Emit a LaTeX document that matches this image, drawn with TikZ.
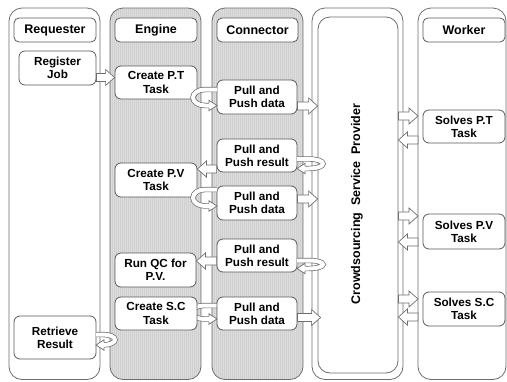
\documentclass[tikz,border=0pt]{standalone}
\usepackage{fontspec}
\setmainfont{Liberation Sans}
\usetikzlibrary{calc}
\definecolor{lc}{HTML}{6E6E6E}
\definecolor{bc}{HTML}{5A5A5A}
\definecolor{lanegray}{HTML}{DCDCDC}
\definecolor{stripe}{HTML}{D0D0D0}

\newcommand\blockarr[2]{%
  \draw[barrow] let \p1=#1, \p2=#2, \p3=($#2!9pt!#1$) in
    (\x1,\y1-4pt) -- (\x3,\y1-4pt) -- (\x3,\y1-8pt) -- (\x2,\y2) --
    (\x3,\y1+8pt) -- (\x3,\y1+4pt) -- (\x1,\y1+4pt) -- cycle;}

% #1 open x, #2 top y, #3 bottom y, #4 extreme x, #5 centre x
\newcommand\uturn[5]{%
  \pgfmathsetmacro\ucy{(#2+#3)/2}%
  \pgfmathsetmacro\ury{(#3-#2)/2}%
  \pgfmathsetmacro\uka{#5+0.552*(#4-#5)}%
  \pgfmathsetmacro\ukt{\ucy-0.552*\ury}%
  \pgfmathsetmacro\ukb{\ucy+0.552*\ury}%
  \pgfmathsetmacro\udir{sign(#1-#5)}%
  \pgfmathsetmacro\uhb{#1-8*\udir}%
  \draw[ubandout] (#1,#2) -- (#5,#2) .. controls (\uka,#2) and (#4,\ukt) .. (#4,\ucy)
     .. controls (#4,\ukb) and (\uka,#3) .. (#5,#3) -- (\uhb,#3);
  \draw[ubandin] (#1,#2) -- (#5,#2) .. controls (\uka,#2) and (#4,\ukt) .. (#4,\ucy)
     .. controls (#4,\ukb) and (\uka,#3) .. (#5,#3) -- (\uhb,#3);
  \filldraw[draw=lc, fill=white, line width=0.7pt, line join=miter]
     (\uhb,#3-2.6) -- (\uhb,#3-5.2) -- (#1,#3) -- (\uhb,#3+5.2) -- (\uhb,#3+2.6);
}

\begin{document}
\begin{tikzpicture}[x=1pt,y=-1pt,
  lane/.style={draw=lc, line width=0.8pt, rounded corners=13pt},
  hdr/.style={draw=bc, fill=white, line width=0.8pt, rounded corners=5pt,
    font=\fontsize{12.5}{14}\selectfont\bfseries, minimum width=82pt,
    minimum height=24pt, inner sep=0pt},
  box/.style={draw=bc, fill=white, line width=0.8pt, rounded corners=6pt,
    font=\fontsize{11.7}{13.3}\selectfont\bfseries, align=center,
    minimum width=82pt, minimum height=34pt, inner sep=0pt},
  barrow/.style={draw=lc, fill=white, line width=0.7pt, line join=miter},
  ubandout/.style={draw=lc, line width=5.4pt},
  ubandin/.style={draw=white, line width=4pt}
]
\useasboundingbox (0,0) rectangle (507,381);
\fill[white] (0,0) rectangle (507,381);

% lanes
\draw[lane] (9,8) rectangle (100,379.5);
\foreach \lx in {110,212}{
  \begin{scope}
    \clip[rounded corners=13pt] (\lx,8) rectangle (\lx+91,379.5);
    \fill[lanegray] (\lx,8) rectangle (\lx+91,380);
    \foreach \i in {0,...,45}
      \draw[stripe, line width=0.6pt] (\lx+\i*2,8) -- (\lx+\i*2,380);
  \end{scope}
  \draw[lane] (\lx,8) rectangle (\lx+91,379.5);
}
\draw[lane] (312,8) rectangle (403,379.5);
\draw[lane] (418,8) rectangle (506,379.5);
\node[draw=lc, line width=0.8pt, rounded corners=12pt, minimum width=80pt,
  minimum height=356pt, inner sep=0pt] (csp) at (358,195) {};
\node[rotate=90, font=\fontsize{12.5}{14}\selectfont\bfseries] (csptext) at (357,204)
  {Crowdsourcing\hspace{0.55em}Service\hspace{0.55em}Provider};
\coordinate (wl) at (418,200);

% headers
\node[hdr] (hreq) at (55,30) {Requester};
\node[hdr] (heng) at (156,30) {Engine};
\node[hdr, minimum width=81pt] (hcon) at (257.5,30) {Connector};
\node[hdr] (hwrk) at (464,30) {Worker};

% hidden loop behind Create S.C
\uturn{217}{305.5}{319}{192}{204}

% boxes
\node[box, minimum width=77pt] (reg) at (57.5,68) {Register\\Job};
\node[box, minimum height=33pt] (ptt) at (156,82.5) {Create P.T\\Task};
\node[box, minimum width=80pt] (ppd1) at (257,97) {Pull and\\Push data};
\node[box, minimum width=80pt, minimum height=33pt] (ppr1) at (257,155.5) {Pull and\\Push result};
\node[box] (pvt) at (156,180) {Create P.V\\Task};
\node[box, minimum width=80pt] (ppd2) at (257,203) {Pull and\\Push data};
\node[box, minimum width=80pt, minimum height=33pt] (ppr2) at (257,255.5) {Pull and\\Push result};
\node[box, minimum width=81pt] (qc) at (155.5,270) {Run QC for\\P.V.};
\node[box, minimum height=33pt] (sct) at (156,313.5) {Create S.C\\Task};
\node[box, minimum width=80pt, minimum height=33pt] (ppd3) at (257,313.5) {Pull and\\Push data};
\node[box, minimum height=43pt] (ret) at (55,337.5) {Retrieve\\Result};
\node[box, minimum height=33pt] (spt) at (464,126.5) {Solves P.T\\Task};
\node[box, minimum height=35pt] (spv) at (464,231.5) {Solves P.V\\Task};
\node[box] (ssc) at (464,309) {Solves S.C\\Task};

% u-turn arrows
\uturn{217}{89.5}{105.5}{193}{205}
\uturn{217}{189.5}{206}{193}{205}
\uturn{297}{159}{168.5}{323}{309}
\uturn{297}{260.5}{268.5}{323}{309}
\uturn{96}{334.5}{345}{115}{103}

% straight block arrows
\blockarr{(reg.east |- 0,77.5)}{(ptt.west |- 0,77.5)}
\blockarr{(ppd1.east |- 0,106)}{(csp.west |- 0,106)}
\blockarr{(ppd2.east |- 0,199)}{(csp.west |- 0,199)}
\blockarr{(ppd3.east |- 0,317.5)}{($(csp.west |- 0,317.5)+(3,0)$)}
\blockarr{(ppr1.west |- 0,169)}{(pvt.east |- 0,169)}
\blockarr{(ppr2.west |- 0,261)}{(qc.east |- 0,261)}
\blockarr{(csp.east |- 0,116)}{(wl |- 0,116)}
\blockarr{(wl |- 0,140)}{(csp.east |- 0,140)}
\blockarr{(csp.east |- 0,216)}{(wl |- 0,216)}
\blockarr{(wl |- 0,242)}{(csp.east |- 0,242)}
\blockarr{(csp.east |- 0,299)}{(wl |- 0,299)}
\blockarr{(wl |- 0,317)}{(csp.east |- 0,317)}
\end{tikzpicture}
\end{document}
